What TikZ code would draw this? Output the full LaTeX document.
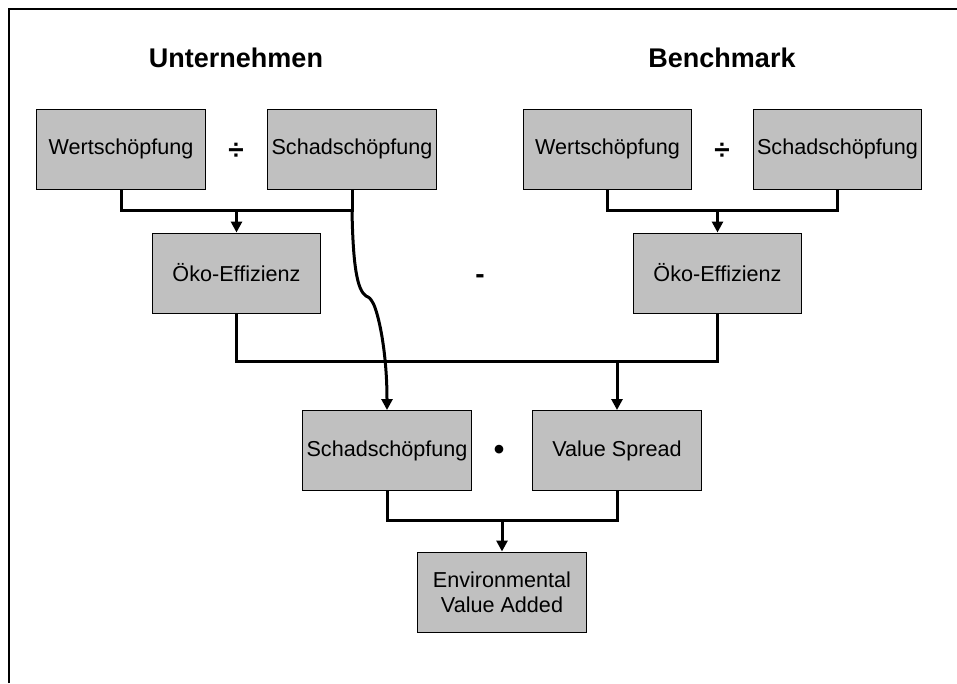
\documentclass[tikz,border=0pt]{standalone}
\usepackage{fontspec}
\setmainfont{Liberation Sans}
\usetikzlibrary{arrows.meta}

\begin{document}
\begin{tikzpicture}[x=1pt,y=-1pt,
  box/.style={draw=black, line width=1pt, fill=boxgray, minimum width=168.5pt,
    minimum height=80pt, inner sep=0pt, align=center,
    font=\fontsize{21.6}{25}\selectfont},
  heading/.style={font=\fontsize{27}{32}\selectfont\bfseries},
  opsym/.style={font=\fontsize{28}{30}\selectfont\bfseries, inner sep=0pt},
  link/.style={line width=3pt},
  feed/.style={link, -{Triangle[width=11pt,length=11pt]}}]
\definecolor{boxgray}{HTML}{C0C0C0}
\useasboundingbox (0,0) rectangle (957,683);

% frame
\draw[line width=2pt] (8.5,683) -- (8.5,9) -- (957,9);

% headings
\node[heading] (hU) at (236,58) {Unternehmen};
\node[heading] (hB) at (722,58) {Benchmark};

% company side
\node[box] (wL) at (121,149) {Wertschöpfung};
\node[box] (sL) at (352,149) {Schadschöpfung};
\node[opsym] (dL) at (236,151) {÷};
\node[box] (oL) at (236.5,273) {Öko-Effizienz};

% benchmark side
\node[box] (wR) at (607.5,149) {Wertschöpfung};
\node[box] (sR) at (837.5,149) {Schadschöpfung};
\node[opsym] (dR) at (722,151) {÷};
\node[box] (oR) at (717.5,273) {Öko-Effizienz};

\node[opsym] (minus) at (480,279) {-};

% lower stage
\node[box] (sB) at (387,450.5) {Schadschöpfung};
\node[box] (vs) at (617,450.5) {Value Spread};
\node[opsym] (dot) at (499,452) {\fontsize{30}{30}\selectfont\textbullet};
\node[box] (eva) at (502,592) {Environmental\\Value Added};

% junction points
\coordinate (j1) at ([yshift=22pt]oL.north);
\coordinate (j2) at ([yshift=22pt]oR.north);
\coordinate (j3) at ([yshift=49pt]vs.north);
\coordinate (j4) at ([yshift=31pt]eva.north);

% connectors
\draw[link] (wL.south) |- (j1) -| (sL.south);
\draw[feed] (j1) -- (oL.north);
\draw[link] (wR.south) |- (j2) -| (sR.south);
\draw[feed] (j2) -- (oR.north);
\draw[link] (oL.south) |- (j3) -| (oR.south);
\draw[feed] (j3) -- (vs.north);
\draw[link] (sB.south) |- (j4) -| (vs.south);
\draw[feed] (j4) -- (eva.north);

% Schadschöpfung carried down to the lower stage
\draw[feed] (sL.south |- j1)
  .. controls (353,265) and (357,290) .. (366,296)
  .. controls (370,298) .. (373,303)
  .. controls (378,312) and (387,350) .. (sB.north);
\end{tikzpicture}
\end{document}
